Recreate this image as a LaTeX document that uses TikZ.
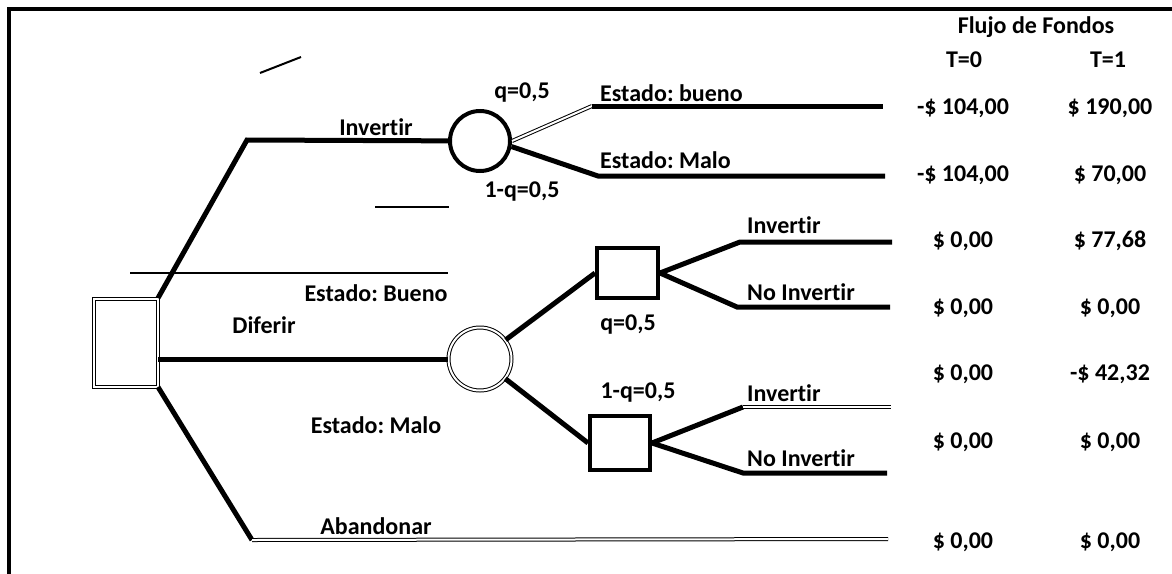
\documentclass[tikz,border=0pt]{standalone}
\usepackage{fontspec}
\setmainfont[Ligatures=NoCommon]{Carlito}
\usetikzlibrary{calc}
\frenchspacing

\begin{document}
\begin{tikzpicture}[x=1pt,y=-1pt,
    thk/.style={line width=5pt},
    thn/.style={line width=2pt},
    dbl/.style={draw=black,double=white,double distance=2pt,line width=1pt},
    lbl/.style={font=\bfseries\fontsize{24}{28}\selectfont,inner sep=0pt},
    chance/.style={circle,draw,line width=4pt,minimum size=60pt,inner sep=0pt},
    choice/.style={rectangle,draw,line width=4pt,inner sep=0pt}]

    \useasboundingbox (0,0) rectangle (1172,573);

    % The frame
    \draw[line width=3.5pt] (9,580) |- (1180,9);

    % The nodes
    \node[choice,dbl,minimum width=64pt,minimum height=88pt] (dec) at (125.5,342.5) {};
    \node[chance] (inv) at (480,141) {};
    \node[chance,dbl,minimum size=63pt] (dif) at (480,359) {};
    \node[choice,minimum width=61pt,minimum height=50pt] (sqB) at (627.5,273) {};
    \node[choice,minimum width=60pt,minimum height=54pt] (sqM) at (620,443) {};

    % Elbows and ends
    \coordinate (eInv) at (247,140);
    \coordinate (eAb) at (252,540);
    \coordinate (eBu) at (592,106);
    \coordinate (eMa) at (598,176);
    \coordinate (eBI) at (740,242);
    \coordinate (eBN) at (737,307);
    \coordinate (eMI) at (743,407);
    \coordinate (eMN) at (743,473);
    \coordinate (tBu) at (883,106);
    \coordinate (tMa) at (885,176);
    \coordinate (tBI) at (892,242);
    \coordinate (tBN) at (890,307);
    \coordinate (tMI) at (891,407);
    \coordinate (tMN) at (887,473);
    \coordinate (tAb) at (888,539);

    % The branches
    \draw[thk] (dec.north east) -- (eInv) -- (inv);
    \draw[thk] (dec.east |- dif) -- (dif);
    \draw[thk] (dec.south east) -- (eAb);
    \draw[dbl] (eAb) -- (tAb);
    \draw[dbl] (inv.east) -- (eBu);
    \draw[thk] (eBu) -- (tBu);
    \draw[thk] (inv.-10) -- (eMa) -- (tMa);
    \draw[thk] (dif) -- (sqB.west);
    \draw[thk] (dif) -- (sqM.west);
    \draw[thk] (sqB.east) -- (eBI) -- (tBI);
    \draw[thk] (sqB.east) -- (eBN) -- (tBN);
    \draw[thk] (sqM.east) -- (eMI);
    \draw[dbl] (eMI) -- (tMI);
    \draw[thk] (sqM.east) -- (eMN) -- (tMN);

    % loose strokes
    \draw[thn] (260,73) -- (301,57);
    \draw[thn] (375,207) -- (449,207);
    \draw[thn] (130,273) -- (448,273);

    % The labels
    \node[lbl] (lInv) at (376,127) {Invertir};
    \node[lbl] (lDif) at (264,325) {Diferir};
    \node[lbl] (lEB) at (376,293) {Estado: Bueno};
    \node[lbl] (lEM) at (376,425) {Estado: Malo};
    \node[lbl] (lAb) at (376,526) {Abandonar};
    \node[lbl] (lq1) at (522,93) {q=0,5};
    \node[lbl] (lq2) at (522,192) {1-q=0,5};
    \node[lbl,anchor=west] (lBu) at (600,93) {Estado: bueno};
    \node[lbl,anchor=west] (lMa) at (600,160) {Estado: Malo};
    \node[lbl] (lq3) at (628,325) {q=0,5};
    \node[lbl] (lq4) at (638,393) {1-q=0,5};
    \node[lbl,anchor=west] (lBI) at (747,225) {Invertir};
    \node[lbl,anchor=west] (lBN) at (747,292) {No Invertir};
    \node[lbl,anchor=west] (lMI) at (747,393) {Invertir};
    \node[lbl,anchor=west] (lMN) at (747,458) {No Invertir};

    % Flujo de fondos
    \node[lbl] (hFl) at (1036,27) {Flujo de Fondos};
    \node[lbl] (hT0) at (964,60) {T=0};
    \node[lbl] (hT1) at (1108,60) {T=1};
    \foreach \y/\a/\b [count=\i] in {108/{-\$ 104,00}/{\$ 190,00}, 175/{-\$ 104,00}/{\$ 70,00},
        241/{\$ 0,00}/{\$ 77,68}, 308/{\$ 0,00}/{\$ 0,00}, 374/{\$ 0,00}/{-\$ 42,32},
        442/{\$ 0,00}/{\$ 0,00}, 542/{\$ 0,00}/{\$ 0,00}}
    {
        \node[lbl] (a\i) at (963,\y) {\a};
        \node[lbl] (b\i) at (1110,\y) {\b};
    }
\end{tikzpicture}
\end{document}
